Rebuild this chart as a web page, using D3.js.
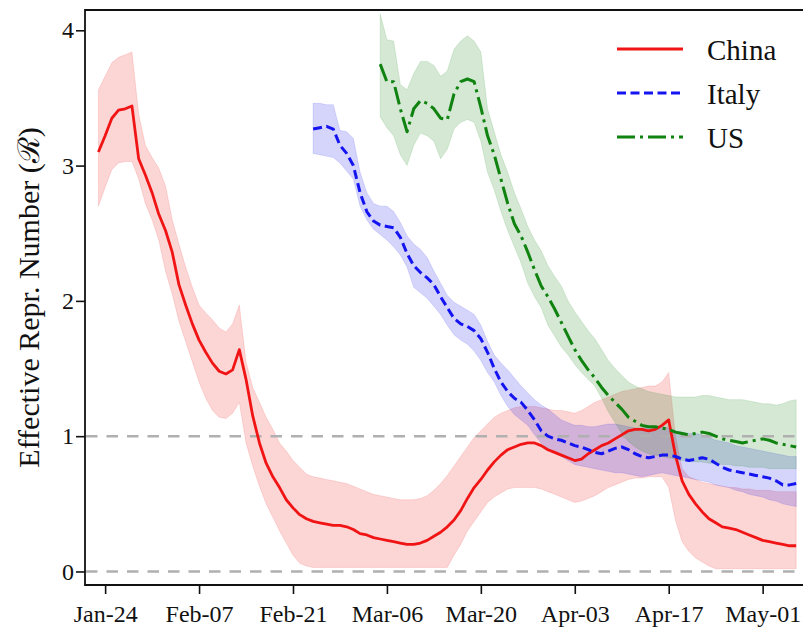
<!DOCTYPE html>
<html>
<head>
<meta charset="utf-8">
<script src="https://cdn.jsdelivr.net/npm/d3@7"></script>
<style>
  body { margin: 0; background: #fff; }
  svg { display: block; font-family: "Liberation Serif", "Times New Roman", "DejaVu Serif", serif; }
  svg text { font-family: "Liberation Serif", "Times New Roman", "DejaVu Serif", serif; }
</style>
</head>
<body>
<svg id="chart" width="803" height="628"></svg>
<script>
// ---- data ----
const xStart = '2020-01-21';
const xEnd = '2020-05-08';
const tickDates = ['2020-01-24', '2020-02-07', '2020-02-21', '2020-03-06',
                   '2020-03-20', '2020-04-03', '2020-04-17', '2020-05-01'];
const yTicks = [0, 1, 2, 3, 4];
const refLines = [0, 1];

const countries = ['China', 'Italy', 'US'];
const startDates = { China: '2020-01-23', Italy: '2020-02-24', US: '2020-03-05' };

const chinaR = [3.10,3.22,3.35,3.41,3.42,3.44,3.05,2.93,2.80,2.64,
  2.52,2.36,2.12,1.97,1.83,1.71,1.62,1.54,1.48,1.46,
  1.49,1.64,1.42,1.15,0.95,0.80,0.70,0.62,0.53,0.47,
  0.42,0.39,0.37,0.36,0.35,0.34,0.34,0.33,0.31,0.28,
  0.27,0.25,0.24,0.23,0.22,0.21,0.20,0.20,0.21,0.23,
  0.26,0.29,0.33,0.38,0.45,0.54,0.62,0.68,0.75,0.81,
  0.86,0.90,0.92,0.94,0.95,0.95,0.93,0.90,0.88,0.86,
  0.84,0.82,0.83,0.87,0.90,0.93,0.95,0.98,1.01,1.04,
  1.05,1.05,1.04,1.05,1.08,1.12,0.86,0.67,0.57,0.50,
  0.44,0.39,0.36,0.33,0.32,0.31,0.29,0.27,0.25,0.23,
  0.22,0.21,0.20,0.19,0.19];
const chinaHi = [3.56,3.66,3.76,3.80,3.82,3.84,3.38,3.15,3.06,2.98,
  2.85,2.60,2.42,2.25,2.10,1.97,1.91,1.86,1.80,1.77,
  1.83,1.97,1.55,1.36,1.25,1.14,1.05,0.95,0.89,0.82,
  0.77,0.72,0.70,0.69,0.68,0.67,0.66,0.65,0.63,0.61,
  0.59,0.57,0.56,0.55,0.54,0.53,0.53,0.53,0.54,0.56,
  0.60,0.65,0.71,0.78,0.85,0.92,0.99,1.04,1.09,1.14,
  1.17,1.19,1.21,1.22,1.22,1.22,1.21,1.20,1.19,1.19,
  1.18,1.17,1.19,1.22,1.25,1.27,1.29,1.31,1.33,1.34,
  1.35,1.36,1.37,1.37,1.40,1.47,1.00,0.76,0.70,0.68,
  0.66,0.65,0.64,0.63,0.62,0.62,0.61,0.61,0.60,0.60,
  0.60,0.59,0.59,0.59,0.59];
const chinaLo = [2.70,2.84,2.97,3.02,3.03,3.03,2.90,2.72,2.60,2.45,
  2.22,2.05,1.85,1.70,1.55,1.40,1.28,1.19,1.14,1.13,
  1.17,1.25,0.95,0.78,0.63,0.50,0.40,0.30,0.21,0.12,
  0.06,0.04,0.03,0.03,0.03,0.03,0.03,0.03,0.03,0.03,
  0.03,0.03,0.03,0.03,0.03,0.03,0.03,0.03,0.03,0.03,
  0.03,0.03,0.03,0.12,0.20,0.30,0.37,0.44,0.51,0.55,
  0.58,0.61,0.62,0.62,0.62,0.62,0.61,0.59,0.57,0.55,
  0.53,0.51,0.52,0.54,0.56,0.59,0.62,0.64,0.66,0.68,
  0.69,0.69,0.70,0.70,0.70,0.62,0.38,0.22,0.15,0.10,
  0.07,0.04,0.02,0.02,0.02,0.02,0.02,0.02,0.02,0.02,
  0.02,0.02,0.02,0.02,0.02];

const italyR = [3.27,3.28,3.29,3.27,3.15,3.09,3.00,2.80,2.66,2.59,
  2.56,2.55,2.54,2.47,2.35,2.26,2.21,2.17,2.12,2.03,
  1.95,1.87,1.83,1.81,1.78,1.72,1.62,1.50,1.40,1.33,
  1.28,1.25,1.19,1.12,1.04,1.00,0.98,0.97,0.95,0.93,
  0.92,0.90,0.88,0.87,0.89,0.91,0.92,0.90,0.87,0.85,
  0.84,0.85,0.86,0.86,0.85,0.83,0.82,0.83,0.84,0.83,
  0.80,0.77,0.75,0.74,0.73,0.72,0.71,0.70,0.69,0.67,
  0.64,0.64,0.65];
const italyHi = [3.46,3.46,3.45,3.45,3.26,3.25,3.20,2.95,2.80,2.72,
  2.70,2.70,2.66,2.58,2.48,2.42,2.38,2.32,2.22,2.13,
  2.04,1.99,1.96,1.93,1.90,1.82,1.70,1.60,1.54,1.49,
  1.43,1.37,1.32,1.27,1.23,1.20,1.16,1.12,1.10,1.08,
  1.08,1.07,1.07,1.08,1.09,1.09,1.08,1.07,1.06,1.06,
  1.07,1.07,1.07,1.06,1.04,1.03,1.02,1.02,1.01,0.99,
  0.97,0.96,0.95,0.93,0.92,0.91,0.90,0.89,0.88,0.87,
  0.86,0.85,0.85];
const italyLo = [3.09,3.08,3.07,3.06,3.02,2.96,2.90,2.70,2.60,2.53,
  2.49,2.45,2.40,2.34,2.25,2.10,2.06,2.02,1.96,1.90,
  1.82,1.75,1.71,1.68,1.63,1.56,1.47,1.40,1.30,1.22,
  1.16,1.12,1.08,1.01,0.95,0.91,0.88,0.85,0.82,0.79,
  0.78,0.77,0.76,0.75,0.74,0.73,0.73,0.72,0.71,0.70,
  0.71,0.72,0.73,0.72,0.71,0.70,0.69,0.68,0.67,0.66,
  0.64,0.63,0.62,0.60,0.59,0.57,0.56,0.55,0.53,0.52,
  0.50,0.49,0.48];

const usR = [3.75,3.62,3.62,3.42,3.25,3.42,3.48,3.46,3.42,3.35,
  3.34,3.53,3.62,3.64,3.62,3.43,3.22,3.08,2.90,2.72,
  2.57,2.48,2.36,2.23,2.11,2.03,1.94,1.84,1.74,1.64,
  1.56,1.49,1.43,1.36,1.30,1.25,1.20,1.14,1.11,1.08,
  1.07,1.07,1.06,1.05,1.03,1.02,1.01,1.02,1.03,1.02,
  1.00,0.98,0.97,0.96,0.95,0.96,0.97,0.98,0.97,0.95,
  0.94,0.93,0.92];
const usHi = [4.12,3.93,3.92,3.60,3.56,3.68,3.77,3.77,3.74,3.66,
  3.70,3.86,3.92,3.96,3.92,3.84,3.42,3.25,3.08,2.95,
  2.80,2.68,2.55,2.45,2.37,2.26,2.18,2.11,2.00,1.92,
  1.85,1.78,1.72,1.64,1.56,1.50,1.45,1.40,1.37,1.35,
  1.33,1.32,1.31,1.30,1.29,1.29,1.29,1.29,1.30,1.30,
  1.29,1.28,1.27,1.27,1.27,1.26,1.25,1.24,1.24,1.23,
  1.24,1.26,1.27];
const usLo = [3.36,3.28,3.22,3.08,3.00,3.15,3.24,3.22,3.18,3.05,
  3.12,3.27,3.32,3.34,3.32,3.18,2.95,2.82,2.66,2.52,
  2.40,2.28,2.13,2.03,1.95,1.82,1.74,1.66,1.60,1.53,
  1.47,1.42,1.37,1.28,1.18,1.10,1.02,0.96,0.92,0.89,
  0.87,0.86,0.85,0.84,0.83,0.82,0.82,0.81,0.81,0.80,
  0.80,0.79,0.79,0.78,0.78,0.77,0.77,0.77,0.76,0.76,
  0.76,0.76,0.76];

const mid = { China: chinaR, Italy: italyR, US: usR };
const hi = { China: chinaHi, Italy: italyHi, US: usHi };
const lo = { China: chinaLo, Italy: italyLo, US: usLo };

// ---- styles ----
const serif = '"Liberation Serif", "Times New Roman", "DejaVu Serif", serif';
const colors = { China: '#f01414', Italy: '#1414f0', US: '#0f820f' };
const dashes = { China: null, Italy: '9,4.5', US: '18,5,3,5' };
const widths = { China: 2.8, Italy: 3, US: 3 };

const svg = d3.select('#chart');
const margin = { left: 85, top: 10, bottom: 585 };
const parse = d3.utcParse('%Y-%m-%d');
const DAY = 864e5;

const x = d3.scaleUtc()
    .domain([parse(xStart), parse(xEnd)])
    .range([margin.left, 809.6]);
const y = d3.scaleLinear()
    .domain([-0.1, 4.15])
    .range([margin.bottom, margin.top]);

svg.append('rect').attr('width', 803).attr('height', 628).attr('fill', '#fff');

svg.append('clipPath').attr('id', 'plot-clip')
  .append('rect')
    .attr('x', x.range()[0]).attr('y', y.range()[1])
    .attr('width', x.range()[1] - x.range()[0])
    .attr('height', y.range()[0] - y.range()[1]);

const plot = svg.append('g').attr('clip-path', 'url(#plot-clip)');

function rows(c) {
  const s = parse(startDates[c]).getTime();
  return mid[c].map((v, i) => ({ date: new Date(s + i * DAY), v: v, lo: lo[c][i], hi: hi[c][i] }));
}

// confidence bands
countries.forEach(c => {
  const area = d3.area()
      .x(d => x(d.date))
      .y0(d => y(d.lo))
      .y1(d => y(d.hi));
  plot.append('path')
      .datum(rows(c))
      .attr('d', area)
      .attr('fill', colors[c])
      .attr('fill-opacity', 0.18)
      .attr('stroke', colors[c])
      .attr('stroke-opacity', 0.12)
      .attr('stroke-width', 1);
});

// reference lines at 0 and 1
plot.selectAll('.ref')
  .data(refLines)
  .join('line')
    .attr('class', 'ref')
    .attr('x1', x.range()[0] + 1).attr('x2', x.range()[1])
    .attr('y1', d => y(d)).attr('y2', d => y(d))
    .attr('stroke', '#b0b0b0')
    .attr('stroke-width', 2.5)
    .attr('stroke-dasharray', '11.5,9');

// central estimates
countries.forEach(c => {
  const line = d3.line()
      .x(d => x(d.date))
      .y(d => y(d.v));
  plot.append('path')
      .datum(rows(c))
      .attr('d', line)
      .attr('fill', 'none')
      .attr('stroke', colors[c])
      .attr('stroke-width', widths[c])
      .attr('stroke-linejoin', 'round')
      .attr('stroke-dasharray', dashes[c]);
});

// axes
const xAxis = svg.append('g')
    .attr('transform', `translate(0,${margin.bottom})`)
    .call(d3.axisBottom(x)
      .tickValues(tickDates.map(parse))
      .tickFormat(d3.utcFormat('%b-%d'))
      .tickSize(9)
      .tickPadding(11));
const yAxis = svg.append('g')
    .attr('transform', `translate(${margin.left},0)`)
    .call(d3.axisLeft(y)
      .tickValues(yTicks)
      .tickFormat(d3.format('d'))
      .tickSize(9)
      .tickPadding(2));

[xAxis, yAxis].forEach(g => {
  g.attr('font-family', serif).attr('font-size', 24);
  g.select('.domain').remove();
  g.selectAll('.tick line').attr('stroke', '#111').attr('stroke-width', 1.6);
  g.selectAll('.tick text')
    .attr('fill', '#111')
    .attr('font-family', serif)
    .attr('font-size', 24);
});

// spines (right spine falls outside the picture)
const [x0, x1] = x.range();
svg.append('path')
    .attr('d', `M${x1},${margin.top}H${x0}V${margin.bottom}H${x1}`)
    .attr('fill', 'none')
    .attr('stroke', '#111')
    .attr('stroke-width', 1.8);

// y-axis title
svg.append('text')
    .attr('transform', `translate(39,${(margin.top + margin.bottom) / 2}) rotate(-90)`)
    .attr('text-anchor', 'middle')
    .attr('fill', '#111')
    .attr('font-family', serif)
    .attr('font-size', 30)
    .text('Effective Repr. Number (ℛ)');

// legend
const legend = svg.append('g').attr('transform', 'translate(617,49)');
countries.forEach((c, i) => {
  const row = legend.append('g').attr('transform', `translate(0,${i * 44})`);
  row.append('line')
      .attr('x1', 0).attr('x2', 66)
      .attr('stroke', colors[c])
      .attr('stroke-width', widths[c])
      .attr('stroke-dasharray', dashes[c]);
  row.append('text')
      .attr('x', 90).attr('y', 11)
      .attr('fill', '#111')
      .attr('font-family', serif)
      .attr('font-size', 29)
      .text(c);
});
</script>
</body>
</html>
